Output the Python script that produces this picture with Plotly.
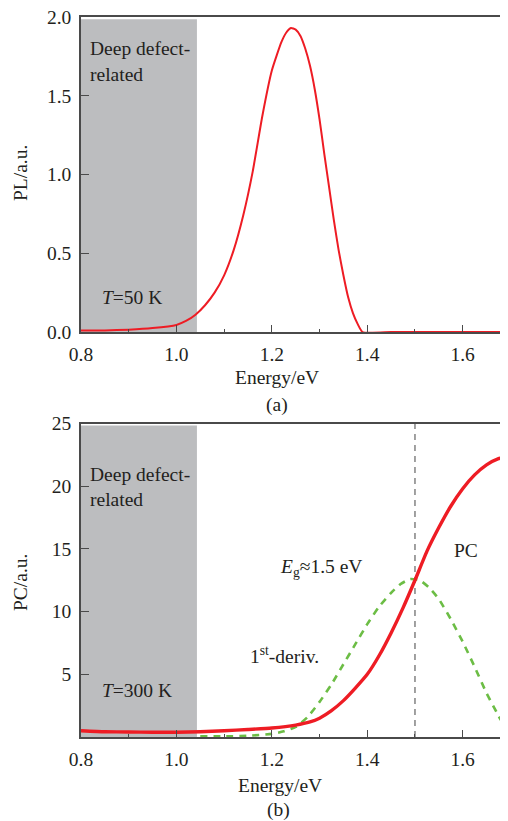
import plotly.graph_objects as go
from plotly.subplots import make_subplots

# ---- data ----
pl_energy = [0.80, 0.85, 0.90, 0.95, 1.00, 1.02, 1.04, 1.06, 1.08, 1.10, 1.12, 1.14,
             1.16, 1.18, 1.20, 1.22, 1.23, 1.24, 1.25, 1.26, 1.27, 1.28, 1.29, 1.30,
             1.31, 1.32, 1.33, 1.34, 1.35, 1.36, 1.37, 1.38, 1.39, 1.45, 1.50, 1.55,
             1.60, 1.65, 1.70]
pl_value = [0.01, 0.01, 0.015, 0.025, 0.045, 0.07, 0.11, 0.17, 0.25, 0.36, 0.52, 0.74,
            1.02, 1.37, 1.66, 1.84, 1.90, 1.93, 1.92, 1.88, 1.80, 1.69, 1.54, 1.35,
            1.13, 0.92, 0.71, 0.52, 0.36, 0.22, 0.12, 0.05, 0.0, 0.0, 0.0, 0.0,
            0.0, 0.0, 0.0]

pc_energy = [0.80, 0.85, 0.90, 0.95, 1.00, 1.05, 1.10, 1.15, 1.20, 1.25, 1.28, 1.30,
             1.325, 1.35, 1.375, 1.40, 1.425, 1.45, 1.475, 1.50, 1.525, 1.55, 1.575,
             1.60, 1.625, 1.65, 1.675, 1.70]
pc_value = [0.5, 0.42, 0.4, 0.38, 0.38, 0.42, 0.5, 0.6, 0.72, 0.95, 1.2, 1.5,
            2.1, 2.9, 3.9, 5.0, 6.5, 8.3, 10.3, 12.5, 14.8, 16.7, 18.4,
            19.8, 20.9, 21.7, 22.2, 22.4]

deriv_energy = [1.05, 1.10, 1.15, 1.20, 1.225, 1.25, 1.275, 1.30, 1.325, 1.35, 1.375,
                1.40, 1.425, 1.45, 1.47, 1.49, 1.51, 1.53, 1.55, 1.575, 1.60, 1.625,
                1.65, 1.675, 1.69]
deriv_value = [0.05, 0.05, 0.1, 0.25, 0.45, 0.8, 1.6, 2.8, 4.2, 5.8, 7.4,
               9.0, 10.4, 11.5, 12.2, 12.6, 12.5, 11.9, 11.0, 9.4, 7.6, 5.6,
               3.5, 1.7, 0.7]

x_ticks = [0.8, 1.0, 1.2, 1.4, 1.6]
pl_ticks = [0.0, 0.5, 1.0, 1.5, 2.0]
pc_ticks = [5, 10, 15, 20, 25]
defect_edge = 1.043
eg_value = 1.5

FONT = "Liberation Serif, Times New Roman, serif"
FS = 19.5
TXT = "#231f20"
AX = "#4a4a4a"
RED = "#ee1c24"
GREEN = "#6cbd45"
GRAY_BAND = "#bcbdbf"

# the page body adds an 8px offset, so the figure is laid out 8px smaller
OFF = 8.0
W, H = 500.0, 813.0
L = 81.0 - OFF

fig = make_subplots(rows=2, cols=1)

fig.add_trace(go.Scatter(x=pl_energy, y=pl_value, mode="lines",
                         line=dict(color=RED, width=2, shape="spline", smoothing=0.5),
                         showlegend=False), row=1, col=1)
fig.add_trace(go.Scatter(x=deriv_energy, y=deriv_value, mode="lines",
                         line=dict(color=GREEN, width=2.6, dash="7px,6px", shape="spline", smoothing=0.5),
                         showlegend=False), row=2, col=1)
fig.add_trace(go.Scatter(x=pc_energy, y=pc_value, mode="lines",
                         line=dict(color=RED, width=3.4, shape="spline", smoothing=0.5),
                         showlegend=False), row=2, col=1)

# shaded deep-defect bands
fig.add_shape(type="rect", xref="x", yref="y", x0=0.8, x1=defect_edge, y0=0, y1=1.985,
              fillcolor=GRAY_BAND, line=dict(width=0), layer="below")
fig.add_shape(type="rect", xref="x2", yref="y2", x0=0.8, x1=defect_edge, y0=0, y1=24.85,
              fillcolor=GRAY_BAND, line=dict(width=0), layer="below")
# Eg dashed line
fig.add_shape(type="line", xref="x2", yref="y2", x0=eg_value, x1=eg_value, y0=0, y1=25,
              line=dict(color="#8a8a8a", width=1.6, dash="6px,5px"), layer="below")

xaxis_common = dict(range=[0.8, 1.695], tickvals=x_ticks, ticktext=[f"{v:.1f}" for v in x_ticks],
                    ticks="inside", ticklen=7, tickcolor=AX, tickwidth=1.2,
                    showline=True, linecolor=AX, linewidth=1.5, mirror=True,
                    showgrid=False, zeroline=False, automargin=False,
                    minor=dict(ticks="inside", ticklen=3, tickcolor=AX, dtick=0.1, showgrid=False),
                    tickfont=dict(family=FONT, size=FS, color=TXT),
                    ticklabelstandoff=4, ticklabeloverflow="allow")
fig.update_xaxes(**xaxis_common, row=1, col=1)
fig.update_xaxes(**xaxis_common, row=2, col=1)

yaxis_common = dict(ticks="inside", ticklen=8, tickcolor=AX, tickwidth=1.2,
                    showline=True, linecolor=AX, linewidth=1.5, showgrid=False, zeroline=False,
                    automargin=False, tickfont=dict(family=FONT, size=FS, color=TXT),
                    ticklabelstandoff=4, ticklabeloverflow="allow")
fig.update_yaxes(range=[0, 2.0], tickvals=pl_ticks, ticktext=[f"{v:.1f}" for v in pl_ticks],
                 **yaxis_common, row=1, col=1)
fig.update_yaxes(range=[0, 25], tickvals=pc_ticks, ticktext=[str(v) for v in pc_ticks],
                 **yaxis_common, row=2, col=1)

fig.update_layout(
    width=int(W), height=int(H),
    margin=dict(l=L, r=0, t=0, b=0, autoexpand=False),
    paper_bgcolor="white", plot_bgcolor="white",
    font=dict(family=FONT, size=FS, color=TXT),
    showlegend=False,
)


def fy(ypage):
    """paper fraction for a page pixel row"""
    return 1 - (ypage - OFF) / H


fig.layout.yaxis.domain = [fy(332), fy(17)]
fig.layout.yaxis2.domain = [fy(737), fy(423.5)]
fig.layout.xaxis.domain = [0, 1]
fig.layout.xaxis2.domain = [0, 1]


def ann(text, x, y, xref, yref, anchor="left", angle=0):
    fig.add_annotation(text=text, x=x, y=y, xref=xref, yref=yref, showarrow=False,
                       xanchor=anchor, yanchor="middle", textangle=angle,
                       font=dict(family=FONT, size=FS, color=TXT))


def px_ann(text, xpx, ypx, angle=0):
    ann(text, (xpx - OFF - L) / (W - L), fy(ypx), "paper", "paper", anchor="center", angle=angle)


ann("Deep defect-", 0.815, 1.80, "x", "y")
ann("related", 0.815, 1.635, "x", "y")
ann("<i>T</i>=50 K", 0.84, 0.22, "x", "y")
ann("Deep defect-", 0.815, 20.9, "x2", "y2")
ann("related", 0.815, 18.9, "x2", "y2")
ann("<i>T</i>=300 K", 0.84, 3.7, "x2", "y2")
ann("<i>E</i><sub>g</sub>≈1.5 eV", 1.212, 13.5, "x2", "y2")
ann("PC", 1.608, 14.9, "x2", "y2", anchor="center")
ann("1<sup>st</sup>-deriv.", 1.15, 6.5, "x2", "y2")

px_ann("Energy/eV", 277, 377)
px_ann("(a)", 277, 405)
px_ann("Energy/eV", 280, 785)
px_ann("(b)", 278, 810)
px_ann("PL/a.u.", 20, 173, angle=-90)
px_ann("PC/a.u.", 20, 583, angle=-90)

fig.write_html("out.html")
